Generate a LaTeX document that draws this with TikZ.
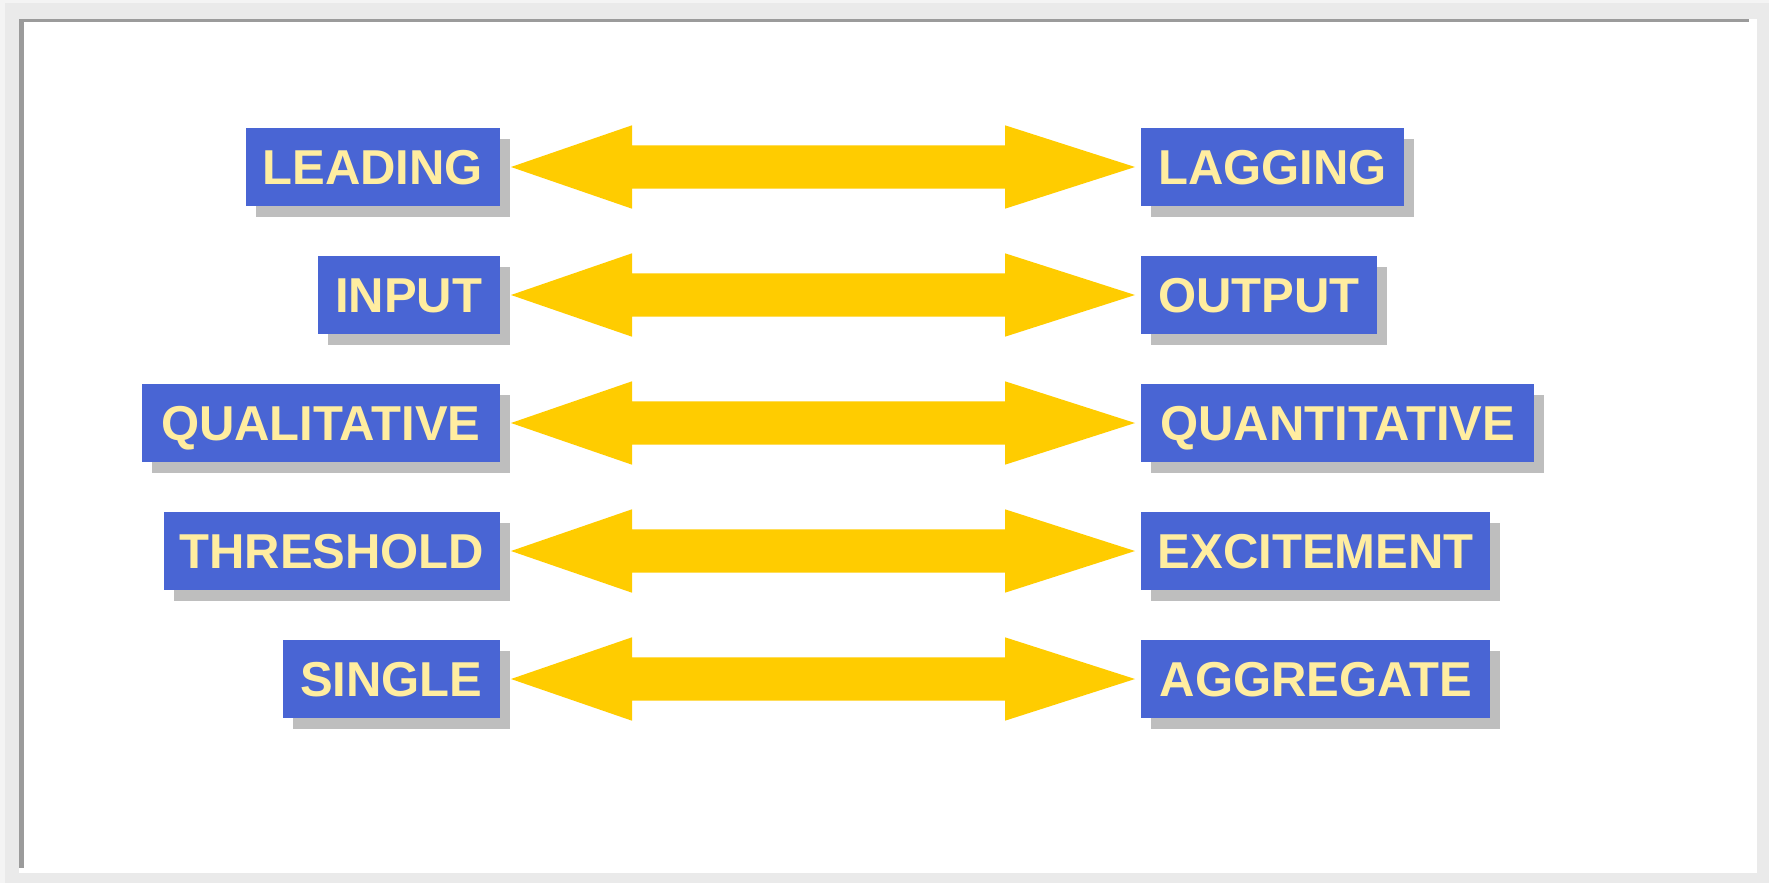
\documentclass[tikz,border=0pt]{standalone}
\usepackage{fontspec}
\setmainfont{Liberation Sans}
\usetikzlibrary{calc,shadows}
\definecolor{boxblue}{RGB}{73,101,212}
\definecolor{txtyellow}{RGB}{255,237,160}
\definecolor{arrowyellow}{RGB}{255,204,0}
\definecolor{shadowgrey}{RGB}{190,190,190}
\definecolor{framelight}{RGB}{234,234,234}
\definecolor{frameouter}{RGB}{244,244,244}
\definecolor{framedark}{RGB}{155,155,155}
\tikzset{
  labelbox/.style={rectangle, fill=boxblue, text=txtyellow,
    font=\fontsize{49}{58}\selectfont\bfseries,
    inner xsep=0pt, inner ysep=0pt, minimum height=78pt,
    text height=35.1pt, text depth=0pt,
    drop shadow={fill=shadowgrey, opacity=1, shadow xshift=10pt, shadow yshift=-11pt}},
  leftbox/.style={labelbox, anchor=east},
  rightbox/.style={labelbox, anchor=west},
  arrowfill/.style={fill=arrowyellow}
}
\newcommand\dblarr[2]{%
  \coordinate (ta) at ($(#1.east)+(11,0)$);
  \coordinate (tb) at ($(#2.west)+(-6,0)$);
  \fill[arrowfill] (ta) -- ($(ta)+(121,-41.7)$) -- ($(ta)+(121,-21.7)$)
    -- ($(tb)+(-130,-21.7)$) -- ($(tb)+(-130,-41.7)$) -- (tb)
    -- ($(tb)+(-130,41.7)$) -- ($(tb)+(-130,21.7)$)
    -- ($(ta)+(121,21.7)$) -- ($(ta)+(121,41.7)$) -- cycle;}
\begin{document}
\begin{tikzpicture}[x=1pt,y=-1pt]
\useasboundingbox (0,0) rectangle (1769,883);
% frame
\fill[frameouter] (0,0) rectangle (1769,883);
\fill[framelight] (5,3) rectangle (1769,883);
\fill[white] (19,19) rectangle (1757,873);
\fill[framedark] (19,19) rectangle (1749,22);
\fill[framedark] (19,19) rectangle (24,868);
% left boxes
\node[leftbox, minimum width=254pt] (l1) at (500,167) {LEADING};
\node[leftbox, minimum width=182pt] (l2) at (500,295) {INPUT};
\node[leftbox, minimum width=358pt] (l3) at (500,423) {QUALITATIVE};
\node[leftbox, minimum width=336pt] (l4) at (500,551) {THRESHOLD};
\node[leftbox, minimum width=217pt] (l5) at (500,679) {SINGLE};
% right boxes
\node[rightbox, minimum width=263pt] (r1) at (1141,167) {LAGGING};
\node[rightbox, minimum width=236pt] (r2) at (1141,295) {OUTPUT};
\node[rightbox, minimum width=393pt] (r3) at (1141,423) {QUANTITATIVE};
\node[rightbox, minimum width=349pt] (r4) at (1141,551) {EXCITEMENT};
\node[rightbox, minimum width=349pt] (r5) at (1141,679) {AGGREGATE};
% arrows
\dblarr{l1}{r1}
\dblarr{l2}{r2}
\dblarr{l3}{r3}
\dblarr{l4}{r4}
\dblarr{l5}{r5}
\end{tikzpicture}
\end{document}
